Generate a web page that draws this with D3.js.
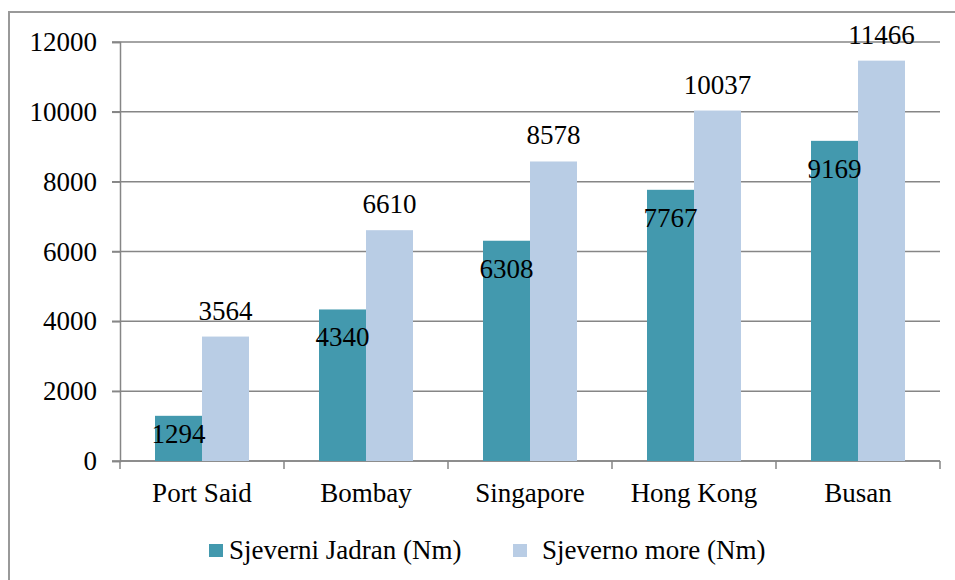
<html>
	<head>
		<meta content="text/html;charset=utf-8" http-equiv="Content-Type">
		<script src="https://cdn.jsdelivr.net/npm/d3@7"></script>
		<style>
		body { margin: 0; background: #fff; }
		</style>
	</head>
	<body>
		<svg id="chart"></svg>
		<script>

	var ports = ["Port Said", "Bombay", "Singapore", "Hong Kong", "Busan"];
	var jadran = [1294, 4340, 6308, 7767, 9169];
	var sjeverno = [3564, 6610, 8578, 10037, 11466];
	var seriesNames = ["Sjeverni Jadran (Nm)", "Sjeverno more (Nm)"];
	var yTicks = [0, 2000, 4000, 6000, 8000, 10000, 12000];
	var colors = ["#4399ae", "#b9cde5"];
	var FONT = "Liberation Serif";

	draw();

	function draw(){
		var svg = d3.select("#chart").attr("width", 955).attr("height", 580);
		var left = 120, right = 940, top = 42, bottom = 461;

		// outer frame
		svg.append("rect")
			.attr("x", 9).attr("y", 12)
			.attr("width", 960).attr("height", 600)
			.style("fill", "none").style("stroke", "#999").style("stroke-width", 2);

		var x = d3.scaleBand().domain(ports).range([left, right]);
		var y = d3.scaleLinear().domain([0, 12000]).range([bottom, top]);

		// grid
		svg.append("g").selectAll("line").data(yTicks).enter().append("line")
			.attr("x1", left - 8).attr("x2", right)
			.attr("y1", function(d){ return y(d); }).attr("y2", function(d){ return y(d); })
			.style("stroke", "#868686").style("stroke-width", 1.5);

		var yAxis = svg.append("g").attr("transform", "translate(" + left + ",0)")
			.call(d3.axisLeft(y).tickValues(yTicks).tickSize(8).tickPadding(15).tickFormat(d3.format("d")));
		yAxis.attr("font-family", FONT).attr("font-size", 27);
		yAxis.select(".domain").style("stroke", "#868686").style("stroke-width", 1.5);
		yAxis.selectAll(".tick line").style("stroke", "#868686").style("stroke-width", 1.5);
		yAxis.selectAll("text").style("font-family", FONT).style("font-size", "27px").attr("fill", "#000");

		// category ticks
		var catEdges = ports.map(function(p){ return x(p); }).concat([right]);
		svg.append("g").selectAll("line").data(catEdges).enter().append("line")
			.attr("x1", function(d){ return d; }).attr("x2", function(d){ return d; })
			.attr("y1", bottom).attr("y2", bottom + 8)
			.style("stroke", "#868686").style("stroke-width", 1.5);
		svg.append("line").attr("x1", left).attr("x2", right).attr("y1", bottom).attr("y2", bottom)
			.style("stroke", "#868686").style("stroke-width", 1.5);

		svg.append("g").selectAll("text").data(ports).enter().append("text")
			.attr("x", function(d){ return x(d) + x.bandwidth() / 2; })
			.attr("y", 502)
			.attr("text-anchor", "middle")
			.style("font-family", FONT).style("font-size", "27px")
			.text(function(d){ return d; });

		var bw = 47;
		var series = [jadran, sjeverno];
		// bars first, labels on top
		series.forEach(function(vals, s){
			svg.append("g").selectAll("rect").data(vals).enter().append("rect")
				.attr("x", function(d, i){ return x(ports[i]) + x.bandwidth() / 2 - bw + s * bw; })
				.attr("y", function(d){ return y(d); })
				.attr("width", bw)
				.attr("height", function(d){ return bottom - y(d); })
				.style("fill", colors[s]);
		});
		series.forEach(function(vals, s){
			svg.append("g").selectAll("text").data(vals).enter().append("text")
				.attr("x", function(d, i){ return x(ports[i]) + x.bandwidth() / 2 - bw / 2 + s * bw; })
				.attr("y", function(d){
					if (s === 0) return Math.min(y(d) + 28, bottom - 27) + 9;
					return y(d) - 26 + 9;
				})
				.attr("text-anchor", "middle")
				.style("font-family", FONT).style("font-size", "27px")
				.text(function(d){ return d; });
		});

		// legend
		var legX = [209, 513];
		var legend = svg.append("g");
		seriesNames.forEach(function(name, s){
			legend.append("rect").attr("x", legX[s]).attr("y", 544).attr("width", 14).attr("height", 13)
				.style("fill", colors[s]);
			legend.append("text").attr("x", legX[s] + 20 + s * 9).attr("y", 559)
				.style("font-family", FONT).style("font-size", "27px")
				.text(name);
		});
	}

		</script>
	</body>
</html>
